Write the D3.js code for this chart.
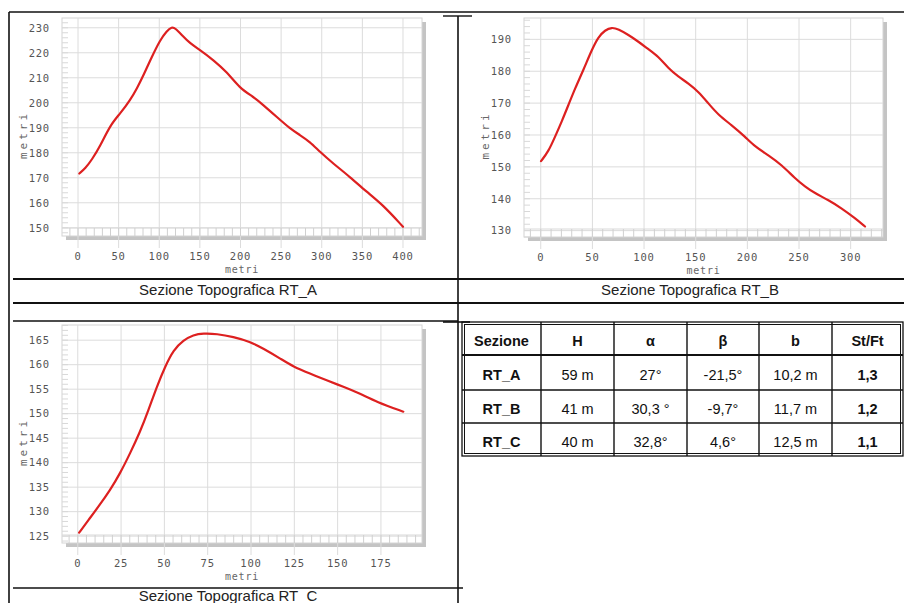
<!DOCTYPE html>
<html><head><meta charset="utf-8">
<script src="https://cdn.jsdelivr.net/npm/d3@7/dist/d3.min.js"></script>
<style>body{margin:0;background:#fff}svg{display:block}</style>
</head><body>
<script>
// ---------- DATA ----------
const rtA_x = [1.6,9,17.2,27.4,39.7,52,64.3,72.5,80.7,90.9,101.1,109.3,115.5,119.5,127.7,138,150.3,166.6,183,199.4,215.8,228,244.4,260.8,273.1,285.4,297.6,314,334.5,355,375.4,400];
const rtA_y = [171.7,173.7,177.3,182.7,191.1,195.7,201.1,205.7,211.1,218.4,225.1,228.8,230.3,229.9,227.1,223.7,221.1,217.1,212.4,205.7,202.4,199.1,194.4,189.7,187.1,184.4,180.4,175.7,170.4,164.4,159.1,150.4];
const rtB_x = [0.3,7.4,13.9,20.3,26.8,33.2,41.3,49.4,55.8,62.3,68.7,75.2,84.8,94.5,104.2,113.9,123.5,133.2,142.9,152.6,162.3,171.9,184.8,197.7,207.4,220.3,233.2,246.1,255.8,265.5,278.4,291.3,304.2,313.9];
const rtB_y = [151.8,154.8,159.5,164.2,169.4,174.6,180.4,186.7,190.8,192.9,193.8,193.2,191.4,189.3,186.9,184.6,180.9,178.3,176.2,173.6,169.9,166.3,163.1,159.5,156.3,153.7,150.6,146.4,143.8,141.7,139.6,137,133.9,131.3];
const rtC_x = [0.8,6.2,11.9,18.7,24.4,30.2,36,40.8,45.6,50.4,55.2,61,66.7,72.5,80.2,89.8,99.4,107.1,116.7,124.4,134,143.7,153.3,162.9,172.5,187.9];
const rtC_y = [125.7,128.3,131,134.4,137.8,141.9,146.3,150.7,155.5,159.6,163,165,166.1,166.4,166.3,165.7,164.7,163.3,161.3,159.6,158.2,156.8,155.5,154.1,152.4,150.4];

const ticksA_x = [0,50,100,150,200,250,300,350,400];
const ticksA_y = [150,160,170,180,190,200,210,220,230];
const ticksB_x = [0,50,100,150,200,250,300];
const ticksB_y = [130,140,150,160,170,180,190];
const ticksC_x = [0,25,50,75,100,125,150,175];
const ticksC_y = [125,130,135,140,145,150,155,160,165];

const captions = ["Sezione Topografica RT_A","Sezione Topografica RT_B","Sezione Topografica RT_C"];
const axisLabel = "metri";

const tableHeader = ["Sezione","H","α","β","b","St/Ft"];
const tableSezione = ["RT_A","RT_B","RT_C"];
const tableH = ["59 m","41 m","40 m"];
const tableAlpha = ["27°","30,3 °","32,8°"];
const tableBeta = ["-21,5°","-9,7°","4,6°"];
const tableB = ["10,2 m","11,7 m","12,5 m"];
const tableStFt = ["1,3","1,2","1,1"];

// ---------- LAYOUT ----------
const W = 904, H = 603;
const svg = d3.select("body").append("svg").attr("width", W).attr("height", H);
svg.append("rect").attr("width", W).attr("height", H).attr("fill", "#fff");

const panels = [
  {xs: rtA_x, ys: rtA_y, tx: ticksA_x, ty: ticksA_y, box:{l:62,t:18,w:360,h:218}, xd:[-19.7,423.4], yd:[146.7,233.9], xMinor:10, yMinor:2, cap:captions[0], capX:228, capY:290},
  {xs: rtB_x, ys: rtB_y, tx: ticksB_x, ty: ticksB_y, box:{l:524,t:18,w:359,h:219}, xd:[-16.2,331.3], yd:[128.0,196.7], xMinor:10, yMinor:2, cap:captions[1], capX:690, capY:290},
  {xs: rtC_x, ys: rtC_y, tx: ticksC_x, ty: ticksC_y, box:{l:62,t:325,w:360,h:218}, xd:[-9.1,198.7], yd:[123.6,168.1], xMinor:5, yMinor:1, cap:captions[2], capX:228, capY:596},
];

const tickFont = "'DejaVu Sans Mono', monospace";

panels.forEach(p => {
  const b = p.box;
  const x = d3.scaleLinear().domain(p.xd).range([b.l, b.l + b.w]);
  const y = d3.scaleLinear().domain(p.yd).range([b.t + b.h, b.t]);
  const g = svg.append("g");

  // shadow + box
  g.append("rect").attr("x", b.l + 4).attr("y", b.t + 4).attr("width", b.w).attr("height", b.h).attr("fill", "#c4c4c4");
  g.append("rect").attr("x", b.l).attr("y", b.t).attr("width", b.w).attr("height", b.h).attr("fill", "#fff").attr("stroke", "#d4d4d4");

  // grid
  g.selectAll(".gx").data(p.tx).enter().append("line")
    .attr("x1", d => x(d)).attr("x2", d => x(d)).attr("y1", b.t).attr("y2", b.t + b.h + 12)
    .attr("stroke", "#dcdcdc").attr("stroke-width", 1);
  g.selectAll(".gy").data(p.ty).enter().append("line")
    .attr("y1", d => y(d)).attr("y2", d => y(d)).attr("x1", b.l).attr("x2", b.l + b.w)
    .attr("stroke", "#dcdcdc").attr("stroke-width", 1);

  // minor tick bands
  const xm = d3.range(Math.ceil(p.xd[0] / p.xMinor) * p.xMinor, p.xd[1], p.xMinor);
  g.append("line").attr("x1", b.l).attr("x2", b.l + b.w).attr("y1", b.t + b.h - 8).attr("y2", b.t + b.h - 8).attr("stroke", "#d8d8d8");
  g.selectAll(".mx").data(xm).enter().append("line")
    .attr("x1", d => x(d)).attr("x2", d => x(d)).attr("y1", b.t + b.h - 8).attr("y2", b.t + b.h)
    .attr("stroke", "#d0d0d0");
  const ym = d3.range(Math.ceil(p.yd[0] / p.yMinor) * p.yMinor, p.yd[1], p.yMinor);
  g.selectAll(".my").data(ym).enter().append("line")
    .attr("y1", d => y(d)).attr("y2", d => y(d)).attr("x1", b.l).attr("x2", b.l + 6)
    .attr("stroke", "#d8d8d8");

  // tick labels
  g.selectAll(".lx").data(p.tx).enter().append("text")
    .attr("x", d => x(d)).attr("y", b.t + b.h + 24)
    .attr("text-anchor", "middle").attr("font-family", tickFont).attr("font-size", 10.5)
    .attr("letter-spacing", 0.8).attr("fill", "#555").text(d => d);
  g.selectAll(".ly").data(p.ty).enter().append("text")
    .attr("x", b.l - 12).attr("y", d => y(d)).attr("dy", "0.36em")
    .attr("text-anchor", "end").attr("font-family", tickFont).attr("font-size", 10.5)
    .attr("letter-spacing", 0.8).attr("fill", "#555").text(d => d);

  // axis titles
  g.append("text").attr("x", b.l + b.w / 2).attr("y", b.t + b.h + 37)
    .attr("text-anchor", "middle").attr("font-family", tickFont).attr("font-size", 10)
    .attr("letter-spacing", 0.8).attr("fill", "#666").text(axisLabel);
  g.append("text").attr("transform", `translate(${b.l - 35},${b.t + b.h / 2 + 8}) rotate(-90)`)
    .attr("text-anchor", "middle").attr("font-family", tickFont).attr("font-size", 11)
    .attr("letter-spacing", 3).attr("fill", "#666").text(axisLabel);

  // curve
  const pts = p.xs.map((v, i) => [v, p.ys[i]]);
  g.append("path").datum(pts)
    .attr("d", d3.line().x(d => x(d[0])).y(d => y(d[1])).curve(d3.curveBasis))
    .attr("fill", "none").attr("stroke", "#dd2020").attr("stroke-width", 2.2).attr("stroke-linejoin", "round").attr("stroke-linecap", "round");

  // caption
  svg.append("text").attr("x", p.capX).attr("y", p.capY).attr("dy", "0.36em")
    .attr("text-anchor", "middle").attr("font-family", "'Liberation Sans', Arial, sans-serif")
    .attr("font-size", 15).attr("fill", "#222").text(p.cap);
});

// ---------- FRAME LINES ----------
const frame = svg.append("g").attr("stroke", "#111").attr("fill", "none");
const segs = [
  [9,12,904,12,1.6],
  [9,12,9,603,1.6],
  [458,16,458,603,1.6],
  [443,16,472,16,1.4],
  [13,279,904,279,2],
  [13,303,904,303,2],
  [13,321,458,321,1.6],
  [443,322,470,322,1.6],
  [13,588,463,588,1.6]
];
frame.selectAll("line").data(segs).enter().append("line")
  .attr("x1", d => d[0]).attr("y1", d => d[1]).attr("x2", d => d[2]).attr("y2", d => d[3]).attr("stroke-width", d => d[4]);

// ---------- TABLE ----------
const colEdges = [462, 541, 614, 687, 759, 832, 903];
const rowEdges = [322, 355, 390, 423, 456];
const tg = svg.append("g");
const rows = [tableHeader].concat(tableSezione.map((s, i) => [s, tableH[i], tableAlpha[i], tableBeta[i], tableB[i], tableStFt[i]]));
tg.append("rect").attr("x", colEdges[0]).attr("y", rowEdges[0]).attr("width", colEdges[6] - colEdges[0]).attr("height", rowEdges[4] - rowEdges[0])
  .attr("fill", "none").attr("stroke", "#111").attr("stroke-width", 1.3);
tg.append("rect").attr("x", colEdges[0] + 2.5).attr("y", rowEdges[0] + 2.5).attr("width", colEdges[6] - colEdges[0] - 5).attr("height", rowEdges[4] - rowEdges[0] - 5)
  .attr("fill", "none").attr("stroke", "#111").attr("stroke-width", 1);
tg.selectAll(".cl").data(colEdges.slice(1, 6)).enter().append("line")
  .attr("x1", d => d).attr("x2", d => d).attr("y1", rowEdges[0]).attr("y2", rowEdges[4]).attr("stroke", "#111").attr("stroke-width", 1.4);
tg.selectAll(".rl").data(rowEdges.slice(1, 4)).enter().append("line")
  .attr("y1", d => d).attr("y2", d => d).attr("x1", colEdges[0]).attr("x2", colEdges[6]).attr("stroke", "#111").attr("stroke-width", (d, i) => i === 0 ? 2 : 1.4);
rows.forEach((r, ri) => {
  r.forEach((c, ci) => {
    const bold = ri === 0 || ci === 0 || ci === 5;
    tg.append("text")
      .attr("x", (colEdges[ci] + colEdges[ci + 1]) / 2)
      .attr("y", (rowEdges[ri] + rowEdges[ri + 1]) / 2 + 2)
      .attr("dy", "0.36em").attr("text-anchor", "middle")
      .attr("font-family", "'Liberation Sans', Arial, sans-serif").attr("font-size", 14.5)
      .attr("font-weight", bold ? "bold" : "normal").attr("fill", "#111").text(c);
  });
});
</script>
</body></html>
